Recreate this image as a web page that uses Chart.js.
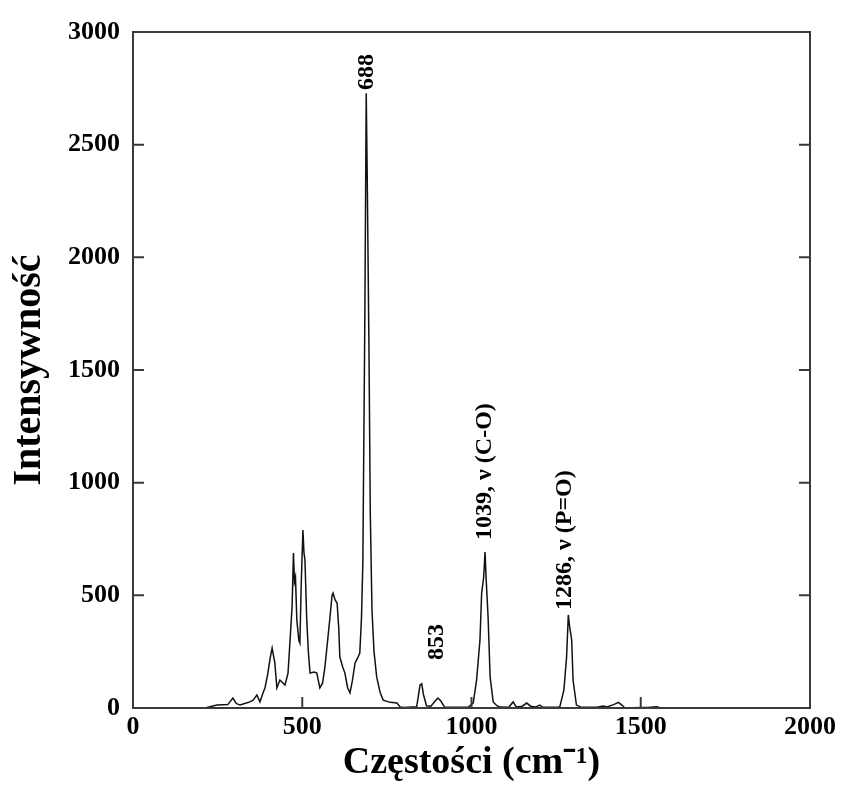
<!DOCTYPE html>
<html>
<head>
<meta charset="utf-8">
<script src="https://cdn.jsdelivr.net/npm/chart.js@4.4.1/dist/chart.umd.min.js"></script>
<style>
  html, body { margin: 0; padding: 0; background: #fff; }
  #wrap { width: 842px; height: 788px; }
</style>
</head>
<body>
<div id="wrap"><canvas id="spectrum"></canvas></div>
<script>
// Raman spectrum, values
const wavenumbers = [
  213, 248, 280, 295, 305, 316, 330, 345, 355, 366, 375, 384, 390, 398, 405, 411,
  419, 425, 434, 449, 458, 464, 470, 474, 477, 480, 484, 490, 493, 497, 502, 505,
  508, 513, 518, 523, 535, 543, 552, 560, 567, 575, 582, 588, 591, 597, 603, 608,
  611, 620, 626, 634, 641, 648, 656, 663, 670, 675, 679, 685, 689, 692, 697, 701,
  706, 712, 720, 730, 739, 760, 780, 789, 800, 838, 848, 853, 858, 867, 880, 895,
  901, 910, 920, 930, 990, 1005, 1015, 1025, 1030, 1036, 1040, 1043, 1049, 1055, 1064, 1075,
  1084, 1110, 1123, 1132, 1150, 1163, 1175, 1190, 1202, 1210, 1255, 1261, 1273, 1281, 1286, 1290,
  1296, 1300, 1310, 1325, 1370, 1389, 1400, 1420, 1434, 1445, 1453, 1500, 1520, 1547, 1560
];
const intensities = [
  0, 13, 15, 44, 20, 13, 20, 27, 35, 58, 27, 67, 90, 150, 220, 266,
  200, 89, 124, 102, 155, 302, 450, 688, 560, 581, 390, 300, 288, 550, 790, 690,
  657, 404, 250, 155, 160, 155, 89, 110, 182, 300, 404, 500, 510, 480, 466, 350,
  226, 180, 155, 90, 67, 120, 200, 220, 244, 400, 644, 1753, 2728, 2352, 1611, 866,
  435, 250, 137, 70, 35, 25, 22, 5, 2, 5, 102, 107, 60, 10, 8, 35,
  44, 30, 5, 3, 3, 22, 124, 302, 510, 580, 692, 581, 404, 138, 27, 10,
  4, 3, 27, 5, 8, 22, 8, 5, 13, 3, 3, 6, 80, 228, 413, 360,
  302, 124, 13, 3, 3, 9, 5, 15, 25, 12, 0, 2, 2, 5, 0
];
const xTicks = [0, 500, 1000, 1500, 2000];
const yTicks = [0, 500, 1000, 1500, 2000, 2500, 3000];
const peakLabels = ["688", "853", "1039, \u03bd (C-O)", "1286, \u03bd (P=O)"];
const peakLabelX = [691, 898, 1040, 1276];
const peakLabelY = [2743, 213, 746, 435];

const serif = '"Liberation Serif", "Times New Roman", serif';

// frame with inward ticks + rotated peak labels
const framePlugin = {
  id: "frame",
  afterDatasetsDraw(chart) {
    const { ctx, chartArea: a, scales } = chart;
    const x = scales.x, y = scales.y;
    ctx.save();
    ctx.strokeStyle = "#3a3a3a";
    ctx.lineWidth = 2;
    ctx.strokeRect(a.left, a.top, a.right - a.left, a.bottom - a.top);
    ctx.beginPath();
    xTicks.slice(1, -1).forEach((v) => {
      const px = x.getPixelForValue(v);
      ctx.moveTo(px, a.bottom);
      ctx.lineTo(px, a.bottom - 11);
    });
    yTicks.slice(1, -1).forEach((v) => {
      const py = y.getPixelForValue(v);
      ctx.moveTo(a.left, py);
      ctx.lineTo(a.left + 11, py);
      ctx.moveTo(a.right, py);
      ctx.lineTo(a.right - 11, py);
    });
    ctx.stroke();

    ctx.fillStyle = "#000";
    ctx.font = "bold 24px " + serif;
    ctx.textAlign = "left";
    ctx.textBaseline = "middle";
    peakLabels.forEach((t, i) => {
      ctx.save();
      ctx.translate(x.getPixelForValue(peakLabelX[i]), y.getPixelForValue(peakLabelY[i]));
      ctx.rotate(-Math.PI / 2);
      ctx.fillText(t, 0, 0);
      ctx.restore();
    });
    ctx.restore();
  },
};

const points = wavenumbers.map((w, i) => ({ x: w, y: intensities[i] }));

new Chart(document.getElementById("spectrum"), {
  type: "line",
  data: {
    datasets: [
      {
        data: points,
        borderColor: "#111",
        borderWidth: 1.5,
        pointRadius: 0,
        tension: 0,
        fill: false,
      },
    ],
  },
  options: {
    responsive: true,
    maintainAspectRatio: false,
    animation: false,
    layout: { padding: { top: 32, right: 32, left: 0, bottom: 0 } },
    plugins: { legend: { display: false }, tooltip: { enabled: false } },
    scales: {
      x: {
        type: "linear",
        min: 0,
        max: 2000,
        afterBuildTicks: (s) => { s.ticks = xTicks.map((v) => ({ value: v })); },
        afterFit: (s) => { s.height = 80; },
        grid: { display: false, drawTicks: false },
        border: { display: false },
        ticks: {
          padding: 4,
          color: "#000",
          maxRotation: 0,
          callback: (v) => String(v),
          font: { family: serif, size: 26, weight: "bold" },
        },
        title: {
          display: true,
          text: "Cz\u0119sto\u015bci (cm\u207b\u00b9)",
          color: "#000",
          padding: { top: 0, bottom: 2 },
          font: { family: serif, size: 38, weight: "bold" },
        },
      },
      y: {
        min: 0,
        max: 3000,
        afterBuildTicks: (s) => { s.ticks = yTicks.map((v) => ({ value: v })); },
        afterFit: (s) => { s.width = 133; },
        grid: { display: false, drawTicks: false },
        border: { display: false },
        ticks: {
          padding: 13,
          color: "#000",
          callback: (v) => String(v),
          font: { family: serif, size: 26, weight: "bold" },
        },
        title: {
          display: true,
          text: "Intensywno\u015b\u0107",
          color: "#000",
          padding: { top: 6, bottom: 0 },
          font: { family: serif, size: 40, weight: "bold" },
        },
      },
    },
  },
  plugins: [framePlugin],
});
</script>
</body>
</html>
